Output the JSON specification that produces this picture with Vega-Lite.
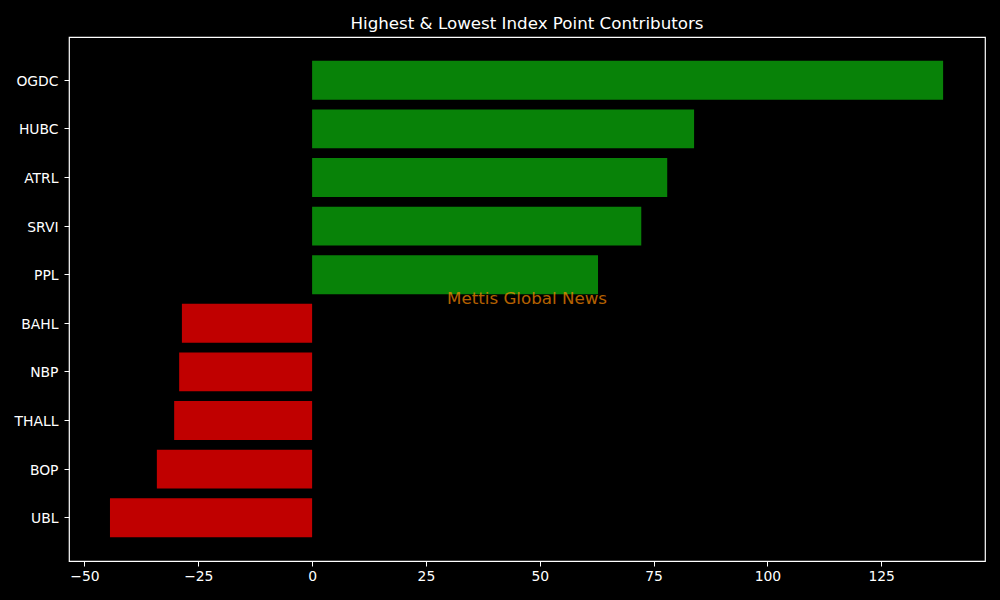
{
  "$schema": "https://vega.github.io/schema/vega-lite/v6.json",
  "width": 916,
  "height": 524,
  "autosize": {"type": "none"},
  "padding": {"left": 69, "top": 37, "right": 15, "bottom": 39},
  "background": "black",
  "title": {
    "text": "Highest & Lowest Index Point Contributors",
    "color": "white",
    "font": "DejaVu Sans",
    "fontSize": 16.7,
    "fontWeight": "normal",
    "offset": 4
  },
  "config": {
    "view": {"stroke": "white", "strokeWidth": 1.2},
    "axis": {
      "domain": false,
      "grid": false,
      "tickColor": "white",
      "tickSize": 5,
      "tickWidth": 1,
      "labelColor": "white",
      "labelFont": "DejaVu Sans",
      "labelFontSize": 13.9,
      "labelPadding": 4,
      "title": null
    }
  },
  "data": {
    "values": [
      {"symbol": "OGDC", "points": 138.6},
      {"symbol": "HUBC", "points": 83.9},
      {"symbol": "ATRL", "points": 78.0},
      {"symbol": "SRVI", "points": 72.3},
      {"symbol": "PPL", "points": 62.8},
      {"symbol": "BAHL", "points": -28.6},
      {"symbol": "NBP", "points": -29.2},
      {"symbol": "THALL", "points": -30.3},
      {"symbol": "BOP", "points": -34.1},
      {"symbol": "UBL", "points": -44.4}
    ]
  },
  "layer": [
    {
      "mark": {"type": "bar"},
      "encoding": {
        "y": {
          "field": "symbol",
          "type": "nominal",
          "scale": {
            "domain": ["OGDC", "HUBC", "ATRL", "SRVI", "PPL", "BAHL", "NBP", "THALL", "BOP", "UBL"],
            "paddingInner": 0.2,
            "paddingOuter": 0.49
          },
          "axis": {"labelPadding": 6, "labelOffset": 1.5}
        },
        "x": {
          "field": "points",
          "type": "quantitative",
          "scale": {"domain": [-53.4, 147.8], "nice": false, "zero": false},
          "axis": {
            "values": [-50, -25, 0, 25, 50, 75, 100, 125],
            "labelExpr": "replace(datum.label, '-', '\u2212')",
            "labelPadding": 3
          }
        },
        "color": {
          "condition": {"test": "datum.points >= 0", "value": "#088208"},
          "value": "#c00000"
        }
      }
    },
    {
      "data": {"values": [{"label": "Mettis Global News", "xpos": 47.2, "ypos": "BAHL"}]},
      "mark": {
        "type": "text",
        "font": "DejaVu Sans",
        "fontSize": 16.7,
        "color": "#ff8c00",
        "opacity": 0.7,
        "align": "center",
        "baseline": "middle",
        "dy": -5
      },
      "encoding": {
        "text": {"field": "label"},
        "x": {"field": "xpos", "type": "quantitative"},
        "y": {"field": "ypos", "type": "nominal", "bandPosition": 0}
      }
    }
  ]
}
